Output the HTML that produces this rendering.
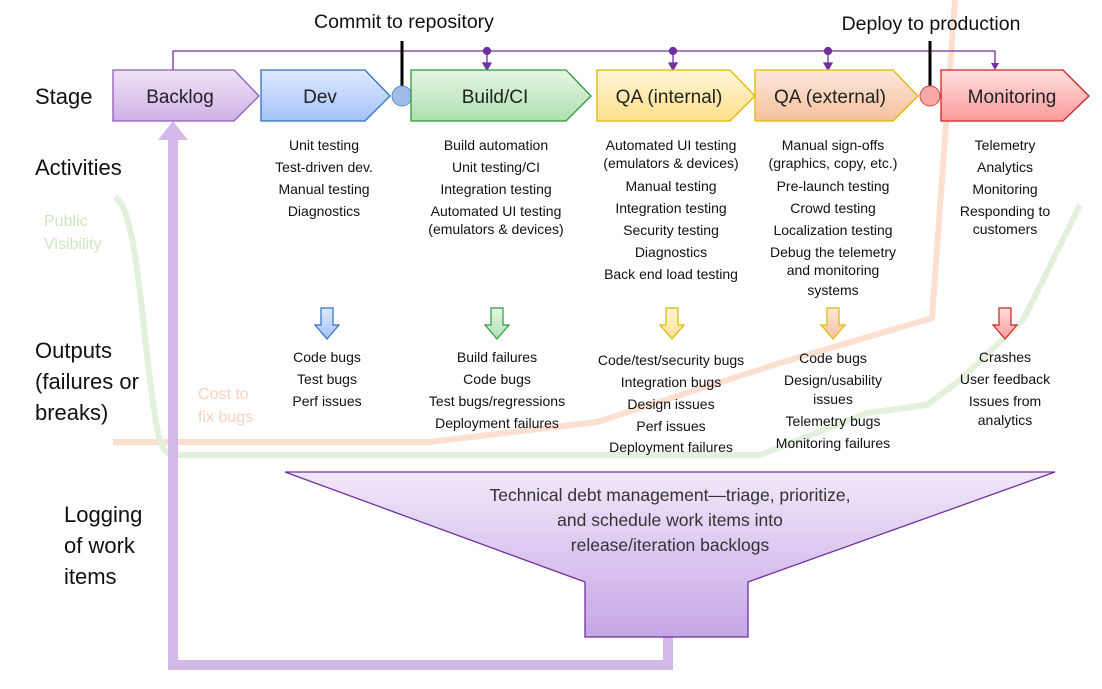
<!DOCTYPE html>
<html><head><meta charset="utf-8"><style>
html,body{margin:0;padding:0;background:#fff;}
svg{display:block;font-family:"Segoe UI","Liberation Sans","DejaVu Sans",sans-serif;}
</style></head><body>
<svg width="1102" height="689" viewBox="0 0 1102 689" xmlns="http://www.w3.org/2000/svg">
<defs>
<linearGradient id="gP" x1="0" y1="0" x2="0" y2="1"><stop offset="0" stop-color="#efe4f8"/><stop offset="1" stop-color="#cfb0e6"/></linearGradient>
<linearGradient id="gB" x1="0" y1="0" x2="0" y2="1"><stop offset="0" stop-color="#dfe9ff"/><stop offset="1" stop-color="#a4c2f8"/></linearGradient>
<linearGradient id="gG" x1="0" y1="0" x2="0" y2="1"><stop offset="0" stop-color="#e4f6e4"/><stop offset="1" stop-color="#aee0ae"/></linearGradient>
<linearGradient id="gY" x1="0" y1="0" x2="0" y2="1"><stop offset="0" stop-color="#fff6d8"/><stop offset="1" stop-color="#fde08a"/></linearGradient>
<linearGradient id="gO" x1="0" y1="0" x2="0" y2="1"><stop offset="0" stop-color="#fde8dc"/><stop offset="1" stop-color="#f6c09c"/></linearGradient>
<linearGradient id="gR" x1="0" y1="0" x2="0" y2="1"><stop offset="0" stop-color="#ffe0e0"/><stop offset="1" stop-color="#fb9a9a"/></linearGradient>
<linearGradient id="gF" x1="0" y1="0" x2="0" y2="1"><stop offset="0" stop-color="#f1e8fa"/><stop offset="1" stop-color="#c6a6e6"/></linearGradient>
</defs>

<polyline points="113,442 430,442 597,422 780,363 932,318 955,0" fill="none" stroke="#fbe0d2" stroke-width="6"/>
<path d="M115,197 C135,210 140,300 150,380 C158,440 160,455 175,455 L760,455 L867,413 L927,405 L960,380 L1023,320 L1043,280 L1080,205" fill="none" stroke="#e3f0dc" stroke-width="6"/>
<text x="44" y="226" font-size="16" fill="#cbe6c0">Public</text>
<text x="44" y="249" font-size="16" fill="#cbe6c0">Visibility</text>
<text x="198" y="399" font-size="16" fill="#f8d2bc">Cost to</text>
<text x="198" y="422" font-size="16" fill="#f8d2bc">fix bugs</text>

<polyline points="668,637 668,665 173,665 173,135" fill="none" stroke="#d5b8ea" stroke-width="10"/>
<polygon points="173,121 158,140 188,140" fill="#d5b8ea"/>

<polyline points="173,70 173,51 995,51 995,64" fill="none" stroke="#7030a0" stroke-width="1.3"/>
<polygon points="991,63 999,63 995,70" fill="#7030a0"/>
<g fill="#7030a0" stroke="#7030a0" stroke-width="1.3">
<circle cx="487" cy="51" r="3.5"/><line x1="487" y1="51" x2="487" y2="64"/><polygon points="483,63 491,63 487,70"/>
<circle cx="673" cy="51" r="3.5"/><line x1="673" y1="51" x2="673" y2="64"/><polygon points="669,63 677,63 673,70"/>
<circle cx="828" cy="51" r="3.5"/><line x1="828" y1="51" x2="828" y2="64"/><polygon points="824,63 832,63 828,70"/>
</g>

<text x="404" y="28" font-size="19.5" text-anchor="middle" fill="#111">Commit to repository</text>
<text x="931" y="30" font-size="19.5" text-anchor="middle" fill="#111">Deploy to production</text>
<line x1="402" y1="41" x2="402" y2="88" stroke="#000" stroke-width="3"/>
<line x1="930" y1="41" x2="930" y2="88" stroke="#000" stroke-width="3"/>

<polygon points="113,70 234,70 259,96 234,121 113,121" fill="url(#gP)" stroke="#8e5bb5" stroke-width="1.3"/>
<polygon points="261,70 365,70 390,96 365,121 261,121" fill="url(#gB)" stroke="#2f6fc8" stroke-width="1.3"/>
<circle cx="402" cy="96" r="10" fill="#9dbde6" stroke="#5b8fd0"/>
<polygon points="411,70 566,70 591,96 566,121 411,121" fill="url(#gG)" stroke="#2c9a3a" stroke-width="1.3"/>
<polygon points="597,70 730,70 755,96 730,121 597,121" fill="url(#gY)" stroke="#e0b800" stroke-width="1.3"/>
<polygon points="755,70 893,70 918,96 893,121 755,121" fill="url(#gO)" stroke="#e0b800" stroke-width="1.3"/>
<circle cx="930" cy="96" r="10" fill="#f9a8a8" stroke="#d84040"/>
<polygon points="941,70 1063,70 1089,96 1063,121 941,121" fill="url(#gR)" stroke="#d02020" stroke-width="1.3"/>
<g font-size="19" text-anchor="middle" fill="#222">
<text x="180" y="103">Backlog</text>
<text x="320" y="103">Dev</text>
<text x="495" y="103">Build/CI</text>
<text x="669" y="103">QA (internal)</text>
<text x="830" y="103">QA (external)</text>
<text x="1012" y="103">Monitoring</text>
</g>

<g font-size="22" fill="#111">
<text x="35" y="104">Stage</text>
<text x="35" y="175">Activities</text>
<text x="35" y="358">Outputs</text>
<text x="35" y="389">(failures or</text>
<text x="35" y="420">breaks)</text>
<text x="64" y="522">Logging</text>
<text x="64" y="553">of work</text>
<text x="64" y="584">items</text>
</g>

<g font-size="14" text-anchor="middle" fill="#111">
<text x="324" y="150">Unit testing</text><text x="324" y="172">Test-driven dev.</text><text x="324" y="194">Manual testing</text><text x="324" y="216">Diagnostics</text>
<text x="496" y="150">Build automation</text><text x="496" y="172">Unit testing/CI</text><text x="496" y="194">Integration testing</text><text x="496" y="216">Automated UI testing</text><text x="496" y="234">(emulators &amp; devices)</text>
<text x="671" y="150">Automated UI testing</text><text x="671" y="168">(emulators &amp; devices)</text><text x="671" y="191">Manual testing</text><text x="671" y="213">Integration testing</text><text x="671" y="235">Security testing</text><text x="671" y="257">Diagnostics</text><text x="671" y="279">Back end load testing</text>
<text x="833" y="150">Manual sign-offs</text><text x="833" y="168">(graphics, copy, etc.)</text><text x="833" y="191">Pre-launch testing</text><text x="833" y="213">Crowd testing</text><text x="833" y="235">Localization testing</text><text x="833" y="257">Debug the telemetry</text><text x="833" y="275">and monitoring</text><text x="833" y="295">systems</text>
<text x="1005" y="150">Telemetry</text><text x="1005" y="172">Analytics</text><text x="1005" y="194">Monitoring</text><text x="1005" y="216">Responding to</text><text x="1005" y="234">customers</text>
</g>

<g stroke-width="1.2">
<polygon points="321,308 333,308 333,325 339,325 327,339 315,325 321,325" fill="url(#gB)" stroke="#2f6fc8"/>
<polygon points="491,308 503,308 503,325 509,325 497,339 485,325 491,325" fill="url(#gG)" stroke="#2c9a3a"/>
<polygon points="666,308 678,308 678,325 684,325 672,339 660,325 666,325" fill="url(#gY)" stroke="#e0b800"/>
<polygon points="827,308 839,308 839,325 845,325 833,339 821,325 827,325" fill="url(#gO)" stroke="#e0b800"/>
<polygon points="999,308 1011,308 1011,325 1017,325 1005,339 993,325 999,325" fill="url(#gR)" stroke="#d02020"/>
</g>

<g font-size="14" text-anchor="middle" fill="#111">
<text x="327" y="362">Code bugs</text><text x="327" y="384">Test bugs</text><text x="327" y="406">Perf issues</text>
<text x="497" y="362">Build failures</text><text x="497" y="384">Code bugs</text><text x="497" y="406">Test bugs/regressions</text><text x="497" y="428">Deployment failures</text>
<text x="671" y="365">Code/test/security bugs</text><text x="671" y="387">Integration bugs</text><text x="671" y="409">Design issues</text><text x="671" y="431">Perf issues</text><text x="671" y="452">Deployment failures</text>
<text x="833" y="363">Code bugs</text><text x="833" y="385">Design/usability</text><text x="833" y="404">issues</text><text x="833" y="426">Telemetry bugs</text><text x="833" y="448">Monitoring failures</text>
<text x="1005" y="362">Crashes</text><text x="1005" y="384">User feedback</text><text x="1005" y="406">Issues from</text><text x="1005" y="425">analytics</text>
</g>

<polygon points="285,472 1055,472 748,582 748,637 585,637 585,582" fill="url(#gF)" stroke="#7030a0" stroke-width="1.3"/>
<g font-size="17.5" text-anchor="middle" fill="#333">
<text x="670" y="501">Technical debt management—triage, prioritize,</text>
<text x="670" y="526">and schedule work items into</text>
<text x="670" y="551">release/iteration backlogs</text>
</g>
</svg>
</body></html>
